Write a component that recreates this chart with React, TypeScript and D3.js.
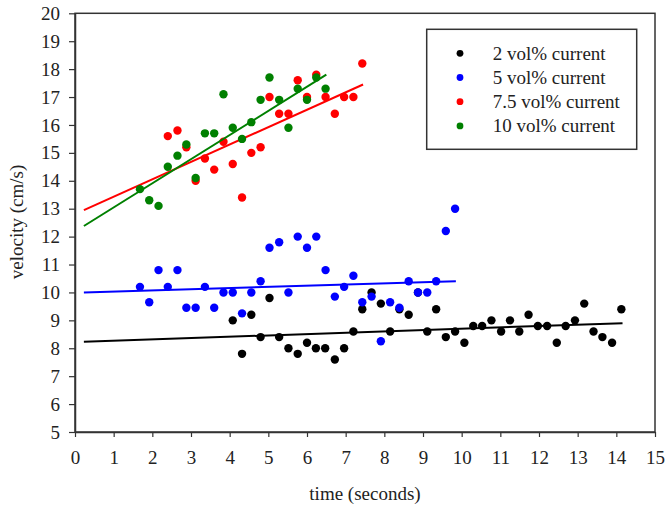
import React, { useEffect, useRef } from "react";
import * as d3 from "d3";

// series values
const blackX = [4.08, 4.32, 4.56, 4.8, 5.03, 5.28, 5.52, 5.76, 6.0, 6.23, 6.47, 6.72, 6.96, 7.2, 7.43, 7.67, 7.91, 8.15, 8.39, 8.63, 8.87, 9.11, 9.34, 9.59, 9.83, 10.07, 10.3, 10.53, 10.77, 11.02, 11.25, 11.49, 11.73, 11.97, 12.21, 12.46, 12.69, 12.93, 13.17, 13.41, 13.64, 13.89, 14.13];
const blackY = [9.0, 7.8, 9.2, 8.4, 9.8, 8.4, 8.0, 7.8, 8.2, 8.0, 8.0, 7.6, 8.0, 8.6, 9.4, 10.0, 9.6, 8.6, 9.4, 9.2, 10.0, 8.6, 9.4, 8.4, 8.6, 8.2, 8.8, 8.8, 9.0, 8.6, 9.0, 8.6, 9.2, 8.8, 8.8, 8.2, 8.8, 9.0, 9.6, 8.6, 8.4, 8.2, 9.4];

const blueX = [1.68, 1.92, 2.16, 2.4, 2.65, 2.88, 3.12, 3.36, 3.6, 3.84, 4.08, 4.32, 4.56, 4.8, 5.03, 5.28, 5.52, 5.76, 6.0, 6.24, 6.48, 6.72, 6.96, 7.2, 7.43, 7.67, 7.91, 8.15, 8.39, 8.63, 8.87, 9.11, 9.34, 9.59, 9.83];
const blueY = [10.2, 9.65, 10.8, 10.2, 10.8, 9.45, 9.45, 10.2, 9.45, 10.0, 10.0, 9.25, 10.0, 10.4, 11.6, 11.8, 10.0, 12.0, 11.6, 12.0, 10.8, 9.85, 10.2, 10.6, 9.65, 9.85, 8.25, 9.65, 9.45, 10.4, 10.0, 10.0, 10.4, 12.2, 13.0];

const redX = [2.4, 2.65, 2.88, 3.12, 3.36, 3.6, 3.84, 4.08, 4.32, 4.56, 4.8, 5.03, 5.28, 5.52, 5.76, 6.0, 6.24, 6.48, 6.72, 6.96, 7.2, 7.43];
const redY = [15.6, 15.8, 15.2, 14.0, 14.8, 14.4, 15.4, 14.6, 13.4, 15.0, 15.2, 17.0, 16.4, 16.4, 17.6, 17.0, 17.8, 17.0, 16.4, 17.0, 17.0, 18.2];

const greenX = [1.68, 1.92, 2.16, 2.4, 2.65, 2.88, 3.12, 3.36, 3.6, 3.84, 4.08, 4.32, 4.56, 4.8, 5.03, 5.28, 5.52, 5.76, 6.0, 6.24, 6.48];
const greenY = [13.7, 13.3, 13.1, 14.5, 14.9, 15.3, 14.1, 15.7, 15.7, 17.1, 15.9, 15.5, 16.1, 16.9, 17.7, 16.9, 15.9, 17.3, 16.9, 17.7, 17.3];

// fitted trend lines: [x start, y start, x end, y end]
const blackFit = [0.23, 8.23, 14.16, 8.9];
const blueFit = [0.23, 10.0, 9.85, 10.4];
const redFit = [0.23, 12.95, 7.45, 17.45];
const greenFit = [0.23, 12.38, 6.5, 17.8];

const legendLabels = ["2 vol% current", "5 vol% current", "7.5 vol% current", "10 vol% current"];
const xTicks = d3.range(0, 16);
const yTicks = d3.range(5, 21);

const series = [
  { xs: blackX, ys: blackY, fit: blackFit, color: "#000000" },
  { xs: blueX, ys: blueY, fit: blueFit, color: "#0000ff" },
  { xs: redX, ys: redY, fit: redFit, color: "#ff0000" },
  { xs: greenX, ys: greenY, fit: greenFit, color: "#008000" },
];

const FONT = "Liberation Serif";

export default function App() {
  const ref = useRef<SVGSVGElement>(null);

  useEffect(() => {
    const svg = d3.select(ref.current);
    svg.selectAll("*").remove();

    const x = d3.scaleLinear().domain([0, 15]).range([75, 655]);
    const y = d3.scaleLinear().domain([5, 20]).range([432, 13.3]);

    // frame
    svg
      .append("rect")
      .attr("x", x(0))
      .attr("y", y(20))
      .attr("width", x(15) - x(0))
      .attr("height", y(5) - y(20))
      .attr("fill", "none")
      .attr("stroke", "#333")
      .attr("stroke-width", 1.5);

    const xAxis = svg
      .append("g")
      .attr("transform", `translate(0,${y(5)})`)
      .call(d3.axisBottom(x).tickValues(xTicks).tickSize(5).tickSizeOuter(0).tickPadding(14).tickFormat(d3.format("d")));
    const yAxis = svg
      .append("g")
      .attr("transform", `translate(${x(0)},0)`)
      .call(d3.axisLeft(y).tickValues(yTicks).tickSize(6).tickSizeOuter(0).tickPadding(9).tickFormat(d3.format("d")));

    [xAxis, yAxis].forEach((g) => {
      g.attr("font-family", FONT).attr("font-size", 19);
      g.select(".domain").attr("stroke", "#333").attr("stroke-width", 1.5);
      g.selectAll(".tick line").attr("stroke", "#333").attr("stroke-width", 1.2);
      g.selectAll(".tick text").attr("fill", "#222");
    });

    // points and trend lines
    series.forEach((s) => {
      const pts = s.xs.map((v, i) => [v, s.ys[i]]);
      svg
        .append("g")
        .selectAll("circle")
        .data(pts)
        .join("circle")
        .attr("cx", (d) => x(d[0]))
        .attr("cy", (d) => y(d[1]))
        .attr("r", 4.2)
        .attr("fill", s.color);
      svg
        .append("line")
        .attr("x1", x(s.fit[0]))
        .attr("y1", y(s.fit[1]))
        .attr("x2", x(s.fit[2]))
        .attr("y2", y(s.fit[3]))
        .attr("stroke", s.color)
        .attr("stroke-width", 2);
    });

    // axis titles
    svg
      .append("text")
      .attr("x", 365)
      .attr("y", 500)
      .attr("text-anchor", "middle")
      .attr("fill", "#222")
      .attr("font-family", FONT)
      .attr("font-size", 19)
      .text("time (seconds)");
    svg
      .append("text")
      .attr("transform", "translate(23,222) rotate(-90)")
      .attr("text-anchor", "middle")
      .attr("fill", "#222")
      .attr("font-family", FONT)
      .attr("font-size", 19)
      .text("velocity (cm/s)");

    // legend
    const legend = svg.append("g");
    legend
      .append("rect")
      .attr("x", 426.7)
      .attr("y", 29.3)
      .attr("width", 210)
      .attr("height", 120)
      .attr("fill", "white")
      .attr("stroke", "#333")
      .attr("stroke-width", 1.5);
    const items = legend
      .selectAll("g.item")
      .data(series)
      .join("g")
      .attr("class", "item")
      .attr("transform", (d, i) => `translate(0,${53.3 + i * 24.2})`);
    items
      .append("circle")
      .attr("cx", 460)
      .attr("cy", 0)
      .attr("r", 3.4)
      .attr("fill", (d) => d.color);
    items
      .append("text")
      .attr("x", 492.7)
      .attr("y", 6.5)
      .attr("fill", "#222")
      .attr("font-family", FONT)
      .attr("font-size", 19)
      .text((d, i) => legendLabels[i]);
  }, []);

  return (
    <svg
      ref={ref}
      width={665}
      height={506}
      fontFamily={FONT}
      style={{ position: "absolute", left: 0, top: 0, background: "white" }}
    ></svg>
  );
}
